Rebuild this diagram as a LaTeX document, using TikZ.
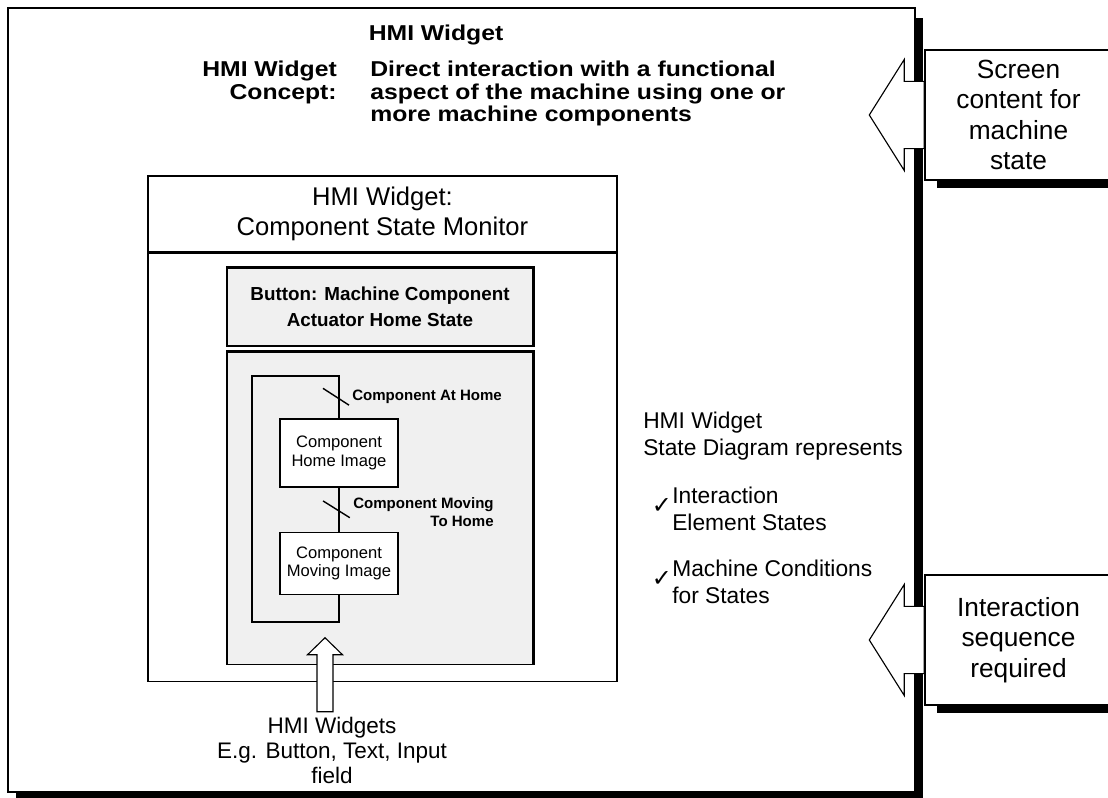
\documentclass[tikz,border=0pt]{standalone}
\usepackage{fontspec}
\setmainfont{Liberation Sans}
\newfontfamily\widefont[FakeStretch=1.15]{Liberation Sans}
\newfontfamily\checkfont{DejaVu Sans}
\usetikzlibrary{positioning,shadows}

\begin{document}
\begin{tikzpicture}[
  frame/.style={draw, line width=1pt, inner sep=0pt},
  side/.style={frame, fill=white, align=center, minimum width=4.675cm, minimum height=3.25cm, font=\fontsize{18.7}{21.7}\selectfont, drop shadow={shadow xshift=0.3cm, shadow yshift=-0.2cm, fill=black, opacity=1}},
  slab/.style={draw, line width=0.8pt, fill=gray!12, minimum width=7.65cm, align=center},
  slabedge/.style={line width=2.5pt},
  imgbox/.style={draw, line width=1pt, fill=white, minimum width=2.95cm, align=center, font=\fontsize{11.8}{13}\selectfont},
  trans/.style={font=\fontsize{10.7}{12.8}\selectfont\bfseries, align=right, inner sep=0pt},
  blockarrow/.style={draw, line width=0.8pt, fill=white, line join=miter},
  note/.style={align=left, inner sep=0pt, font=\fontsize{16.2}{19.2}\selectfont},
  check/.style={font=\checkfont\fontsize{17}{17}\selectfont, inner sep=0pt},
  head/.style={font=\widefont\fontsize{15.3}{16}\selectfont\bfseries, inner sep=0pt}
]
  \useasboundingbox (0,0) rectangle (27.7,-19.95);
  \clip (0,0) rectangle (27.7,-19.95);

  % outer widget frame
  \node[frame, fill=white, minimum width=22.675cm, minimum height=19.6cm, drop shadow={shadow xshift=0.2cm, shadow yshift=-0.25cm, fill=black, opacity=1}] (widget) at (11.5375,-10) {};
  \node[head] (title) at (10.9,-0.875) {HMI Widget};
  \node[head, align=right, anchor=north east] (concept) at (8.425,-1.525) {HMI Widget\\Concept:};
  \node[head, align=left, anchor=north west] (conceptdesc) at (9.25,-1.525) {Direct interaction with a functional\\aspect of the machine using one or\\more machine components};

  % component state monitor
  \node[frame, minimum width=11.725cm, minimum height=1.9cm, align=center, font=\fontsize{18.2}{21.3}\selectfont] (monitorhead) at (9.5625,-5.35) {HMI Widget:\\Component State Monitor};
  \node[frame, minimum width=11.725cm, minimum height=10.7cm, below=0pt of monitorhead] (monitor) {};

  \node[slab, minimum height=1.95cm, font=\fontsize{13.4}{18.5}\selectfont\bfseries] (button) at (9.5,-7.675) {Button: Machine Component\\Actuator Home State};
  \node[slab, minimum height=7.8cm, below=0.125cm of button] (statearea) {};
  \draw[slabedge] (button.north west) -- (button.north east) -- (button.south east);
  \draw[slabedge] (statearea.north west) -- (statearea.north east) -- (statearea.south east);

  % state diagram
  \node[imgbox, minimum height=1.7cm] (home) at (8.475,-11.325) {Component\\Home Image};
  \node[imgbox, minimum height=1.55cm, below=1.1cm of home] (moving) {Component\\Moving Image};
  \coordinate (loopnw) at (6.3,-9.4);
  \coordinate (loopsw) at (6.3,-15.55);
  \draw[line width=1pt] (home.north) |- (loopnw) -- (loopsw) -| (moving.south);
  \draw[line width=1pt] (home.south) -- (moving.north);
  \path (home.north) -- coordinate[midway] (athome) (home.north |- loopnw);
  \path (home.south) -- coordinate[midway] (tohome) (moving.north);
  \draw[line width=1pt] ([shift={(-0.4,0.22)}]athome) -- ([shift={(0.25,-0.2)}]athome);
  \draw[line width=1pt] ([shift={(-0.4,0.22)}]tohome) -- ([shift={(0.27,-0.2)}]tohome);
  \node[trans, anchor=west] (athomelbl) at ([xshift=0.325cm]athome) {Component At Home};
  \node[trans, anchor=west] (tohomelbl) at ([xshift=0.35cm,yshift=-0.05cm]tohome) {Component Moving\\To Home};

  % widgets feeding the diagram
  \node[align=center, font=\fontsize{16}{17.8}\selectfont] (widgets) at (8.3,-18.75) {HMI Widgets\\E.g. Button, Text, Input\\field};
  \coordinate (arrowbase) at ([xshift=-0.175cm]widgets.north);
  \draw[blockarrow] ([xshift=-0.2cm]arrowbase) -- ++(0,1.425) -- ++(-0.2375,0) -- ++(0.4375,0.425) -- ++(0.4375,-0.425) -- ++(-0.2375,0) -- ++(0,-1.425) -- cycle;

  % notes
  \node[note, anchor=north west] (diagramnote) at (16.075,-10.3) {HMI Widget\\State Diagram represents};
  \node[check] (check1) at (16.55,-12.65) {✓};
  \node[note, anchor=north west] (item1) at (16.8,-12.175) {Interaction\\Element States};
  \node[check] (check2) at (16.55,-14.475) {✓};
  \node[note, anchor=north west] (item2) at (16.8,-14.0) {Machine Conditions\\for States};

  % side boxes
  \node[side] (screen) at (25.4625,-2.875) {Screen\\content for\\machine\\state};
  \node[side] (sequence) at (25.4625,-16) {Interaction\\sequence\\required};
  \draw[blockarrow] ([yshift=0.84cm]screen.west) -- ++(-0.5,0) -- ++(0,0.55) -- ++(-0.875,-1.39) -- ++(0.875,-1.39) -- ++(0,0.55) -- ++(0.5,0) -- cycle;
  \draw[blockarrow] ([yshift=0.84cm]sequence.west) -- ++(-0.5,0) -- ++(0,0.55) -- ++(-0.875,-1.39) -- ++(0.875,-1.39) -- ++(0,0.55) -- ++(0.5,0) -- cycle;
\end{tikzpicture}
\end{document}
